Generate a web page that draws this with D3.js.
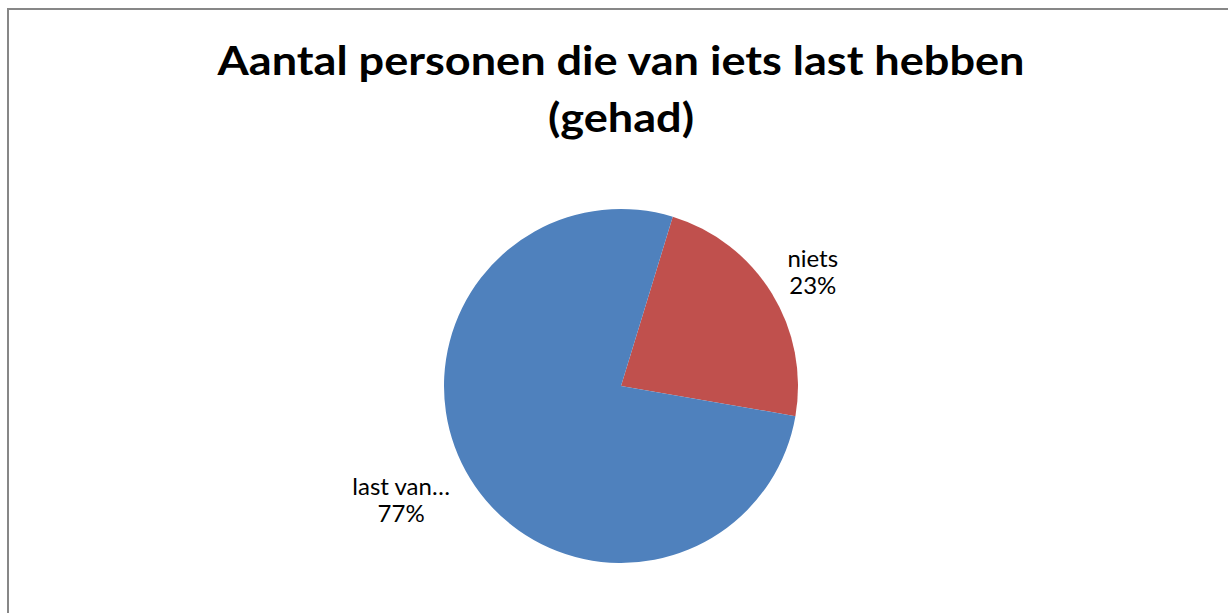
<!DOCTYPE html>
<html>
<head>
<meta charset="utf-8">
<script src="https://cdn.jsdelivr.net/npm/d3@7"></script>
<style>
  body { margin: 0; background: #fff; }
  svg { display: block; }
</style>
</head>
<body>
<script>
// chart data
const titleLines = ["Aantal personen die van iets last hebben", "(gehad)"];
const categories = ["niets", "last van…"];
const values = [23, 77];
const colors = ["#C0504D", "#4F81BD"];

const width = 1228, height = 613;
const font = "Lato, 'Open Sans', sans-serif";

const svg = d3.select("body").append("svg")
  .attr("width", width)
  .attr("height", height);

// chart area frame (runs off the right and bottom edge)
svg.append("rect")
  .attr("x", 8).attr("y", 9)
  .attr("width", width + 20).attr("height", height + 20)
  .attr("fill", "none")
  .attr("stroke", "#878787")
  .attr("stroke-width", 2);

// title
const title = svg.append("g").attr("class", "title");
const t1 = title.append("text")
  .attr("x", 621).attr("y", 75)
  .attr("text-anchor", "middle")
  .style("font", `bold 41px ${font}`)
  .text(titleLines[0]);
const w1 = t1.node().getComputedTextLength();
const ratio = 807 / w1;
t1.attr("textLength", 807).attr("lengthAdjust", "spacingAndGlyphs");
const t2 = title.append("text")
  .attr("x", 621).attr("y", 132)
  .attr("text-anchor", "middle")
  .style("font", `bold 41px ${font}`)
  .text(titleLines[1]);
t2.attr("textLength", t2.node().getComputedTextLength() * ratio)
  .attr("lengthAdjust", "spacingAndGlyphs");

// pie
const cx = 621, cy = 386, r = 177;
const total = d3.sum(values);
const startDeg = 17;
const pie = d3.pie()
  .sort(null)
  .value(d => d.value)
  .startAngle(startDeg * Math.PI / 180)
  .endAngle((startDeg + 360) * Math.PI / 180);
const arc = d3.arc().innerRadius(0).outerRadius(r);

const data = categories.map((c, i) => ({ name: c, value: values[i], color: colors[i] }));
const arcs = pie(data);

const stage = svg.append("g").attr("transform", `translate(${cx},${cy})`);

stage.selectAll(".slice")
  .data(arcs)
  .join("path")
  .attr("class", "slice")
  .attr("d", arc)
  .attr("fill", d => d.data.color);

// outside-end data labels
const fmt = d3.format(".0%");
const labels = stage.selectAll(".lbl")
  .data(arcs)
  .join("text")
  .attr("class", "lbl")
  .attr("text-anchor", "middle")
  .style("font", `24px ${font}`)
  .attr("fill", "#000");

labels.append("tspan")
  .attr("x", 0).attr("dy", 0)
  .text(d => d.data.name);
labels.append("tspan")
  .attr("x", 0).attr("dy", 27)
  .text(d => fmt(d.data.value / total));

labels.each(function(d) {
  const a = (d.startAngle + d.endAngle) / 2;
  const bb = this.getBBox();
  const s = Math.sign(Math.sin(a));
  const x = Math.sin(a) * r * 1.07 + s * 1.2 * bb.width / 2;
  const y = -Math.cos(a) * r * 1.23;
  // block center -> first baseline
  d3.select(this).attr("transform", `translate(${x},${y - 5})`);
});
</script>
</body>
</html>
